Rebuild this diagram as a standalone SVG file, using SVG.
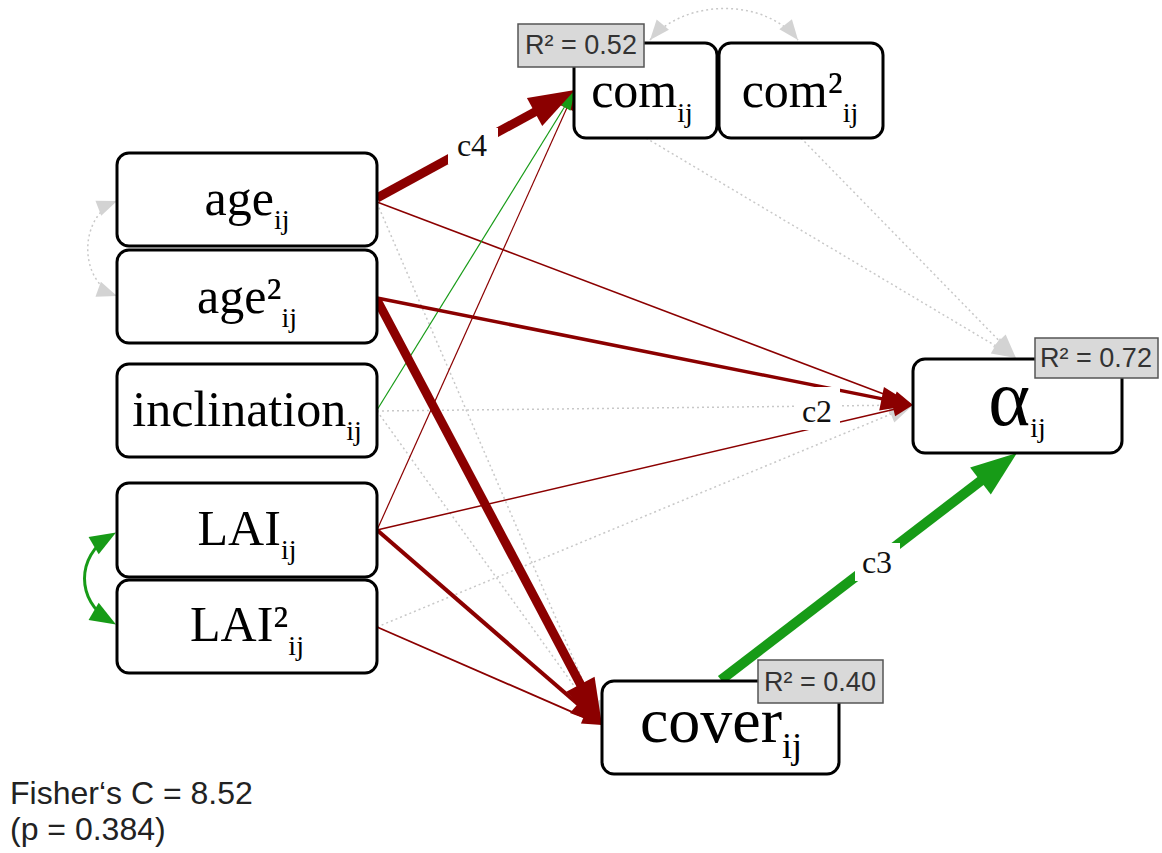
<svg xmlns="http://www.w3.org/2000/svg" width="1162" height="853" viewBox="0 0 1162 853">
<style>
.box{fill:#fff;stroke:#000;stroke-width:3}
.nt{font-family:"Liberation Serif","Times New Roman",serif;font-size:50px;fill:#000;text-anchor:middle}
.sb{font-size:28px}
.r2{fill:#d9d9d9;stroke:#555;stroke-width:1.5}
.r2t{font-family:"Liberation Sans",Arial,sans-serif;font-size:27px;fill:#333;text-anchor:middle}
.el{font-family:"Liberation Serif","Times New Roman",serif;font-size:32px;fill:#111;text-anchor:middle}
.red{fill:none;stroke:#8b0000}
.grn{fill:none;stroke:#179b17}
.dot{fill:none;stroke:#c8c8c8;stroke-width:1.5;stroke-dasharray:2 3}
.lbg{fill:#fff}
.fis{font-family:"Liberation Sans",Arial,sans-serif;font-size:32px;fill:#222}
</style>
<defs>
<marker id="mBig" markerUnits="userSpaceOnUse" markerWidth="46" markerHeight="32" refX="26" refY="16" orient="auto" overflow="visible"><path d="M0,0 L46,16 L0,32 z" fill="#8b0000"/></marker>
<marker id="mMed" markerUnits="userSpaceOnUse" markerWidth="32" markerHeight="24" refX="20" refY="12" orient="auto" overflow="visible"><path d="M0,0 L32,12 L0,24 z" fill="#8b0000"/></marker>
<marker id="mThin" markerUnits="userSpaceOnUse" markerWidth="20" markerHeight="14" refX="12" refY="7" orient="auto" overflow="visible"><path d="M0,0 L20,7 L0,14 z" fill="#8b0000"/></marker>
<marker id="mGBig" markerUnits="userSpaceOnUse" markerWidth="46" markerHeight="34" refX="26" refY="17" orient="auto" overflow="visible"><path d="M0,0 L46,17 L0,34 z" fill="#179b17"/></marker>
<marker id="mGThin" markerUnits="userSpaceOnUse" markerWidth="20" markerHeight="14" refX="12" refY="7" orient="auto" overflow="visible"><path d="M0,0 L20,7 L0,14 z" fill="#179b17"/></marker>
<marker id="mGCur" markerUnits="userSpaceOnUse" markerWidth="26" markerHeight="20" refX="19" refY="10" orient="auto-start-reverse" overflow="visible"><path d="M0,0 L26,10 L0,20 z" fill="#179b17"/></marker>
<marker id="mGray" markerUnits="userSpaceOnUse" markerWidth="24" markerHeight="18" refX="14" refY="9" orient="auto" overflow="visible"><path d="M0,0 L24,9 L0,18 z" fill="#d3d3d3"/></marker>
<marker id="mGrayC" markerUnits="userSpaceOnUse" markerWidth="20" markerHeight="16" refX="20" refY="8" orient="auto-start-reverse" overflow="visible"><path d="M0,0 L20,8 L0,16 z" fill="#d3d3d3"/></marker>
</defs>
<rect width="1162" height="853" fill="#fff"/>
<g id="connectors">
<path class="dot" d="M377,411 L903,405.1" marker-end="url(#mGray)"/>
<path class="dot" d="M377,627 L903.8,408.8" marker-end="url(#mGray)"/>
<path class="dot" d="M377,203 L598,715.8" marker-end="url(#mGray)"/>
<path class="dot" d="M377,411 L596.2,716.9" marker-end="url(#mGray)"/>
<path class="dot" d="M646,138 L1007.4,352.9" marker-end="url(#mGray)"/>
<path class="dot" d="M801,138 L1009,350.8" marker-end="url(#mGray)"/>
<path class="dot" d="M117,201 C78,216 78,282 117,296" marker-start="url(#mGrayC)" marker-end="url(#mGrayC)"/>
<path class="dot" d="M650,40 C685,-2 765,-2 798,40" marker-start="url(#mGrayC)" marker-end="url(#mGrayC)"/>
<path class="red" stroke-width="1.5" d="M377,202 L905.5,402.2" marker-end="url(#mThin)"/>
<path class="red" stroke-width="1.5" d="M377,530 L905.2,406.8" marker-end="url(#mThin)"/>
<path class="red" stroke-width="1.2" d="M377,530 L571.7,97.3" marker-end="url(#mThin)"/>
<path class="red" stroke-width="1.8" d="M377,627 L594.7,721.8" marker-end="url(#mThin)"/>
<path class="grn" stroke-width="1.2" d="M377,410 L570.8,96.8" marker-end="url(#mGThin)"/>
<path class="red" stroke-width="3.5" d="M377,298 L901.2,402.6" marker-end="url(#mMed)"/>
<path class="red" stroke-width="4" d="M377,530 L592.9,717.1" marker-end="url(#mMed)"/>
<path class="red" stroke-width="9" d="M377,198 L557.4,99.6" marker-end="url(#mBig)"/>
<path class="red" stroke-width="9" d="M377,300 L592.6,707.3" marker-end="url(#mBig)"/>
<path class="grn" stroke-width="10" d="M721,680 L1001.1,465.2" marker-end="url(#mGBig)"/>
<path class="grn" stroke-width="3" d="M110,536 C76,556 76,601 110,621" marker-start="url(#mGCur)" marker-end="url(#mGCur)"/>
<rect class="lbg" x="448" y="128" width="50" height="36"/>
<text class="el" x="472" y="156">c4</text>
<rect class="lbg" x="795" y="387" width="45" height="43"/>
<text class="el" x="817" y="422">c2</text>
<rect class="lbg" x="855" y="543" width="45" height="38"/>
<text class="el" x="877" y="573">c3</text>
</g>
<g id="node-age">
<rect class="box" x="117" y="153" width="260" height="93" rx="12"/>
<text class="nt" x="247" y="215">age<tspan class="sb" dy="14">ij</tspan></text>
</g>
<g id="node-age2">
<rect class="box" x="117" y="250" width="260" height="93" rx="12"/>
<text class="nt" x="247" y="313">age²<tspan class="sb" dy="14">ij</tspan></text>
</g>
<g id="node-inclination">
<rect class="box" x="117" y="364" width="260" height="93" rx="12"/>
<text class="nt" x="247" y="426">inclination<tspan class="sb" dy="14">ij</tspan></text>
</g>
<g id="node-LAI">
<rect class="box" x="117" y="483" width="260" height="94" rx="12"/>
<text class="nt" x="247" y="545">LAI<tspan class="sb" dy="14">ij</tspan></text>
</g>
<g id="node-LAI2">
<rect class="box" x="117" y="580" width="260" height="93" rx="12"/>
<text class="nt" x="247" y="641">LAI²<tspan class="sb" dy="14">ij</tspan></text>
</g>
<g id="node-com">
<rect class="box" x="574" y="43" width="143" height="95" rx="12"/>
<text class="nt" x="642" y="107">com<tspan class="sb" dy="15">ij</tspan></text>
</g>
<g id="node-com2">
<rect class="box" x="719" y="43" width="164" height="95" rx="12"/>
<text class="nt" x="800" y="107">com²<tspan class="sb" dy="15">ij</tspan></text>
</g>
<g id="node-alpha">
<rect class="box" x="913" y="359" width="209" height="94" rx="12"/>
<text class="nt" x="1017" y="425" style="font-size:80px">α<tspan class="sb" dy="12" style="font-size:28px">ij</tspan></text>
</g>
<g id="node-cover">
<rect class="box" x="602" y="681" width="237" height="93" rx="12"/>
<text class="nt" x="721" y="742" style="font-size:64px">cover<tspan dy="16" style="font-size:36px">ij</tspan></text>
</g>
<g id="r2-labels">
<rect class="r2" x="518" y="24" width="126" height="43"/>
<text class="r2t" x="581" y="54">R² = 0.52</text>
<rect class="r2" x="1035" y="338" width="123" height="40"/>
<text class="r2t" x="1096" y="367">R² = 0.72</text>
<rect class="r2" x="758" y="660" width="125" height="43"/>
<text class="r2t" x="820" y="691">R² = 0.40</text>
</g>
<g id="fit">
<text class="fis" x="10" y="804">Fisher‘s C = 8.52</text>
<text class="fis" x="10" y="840">(p = 0.384)</text>
</g>
</svg>
